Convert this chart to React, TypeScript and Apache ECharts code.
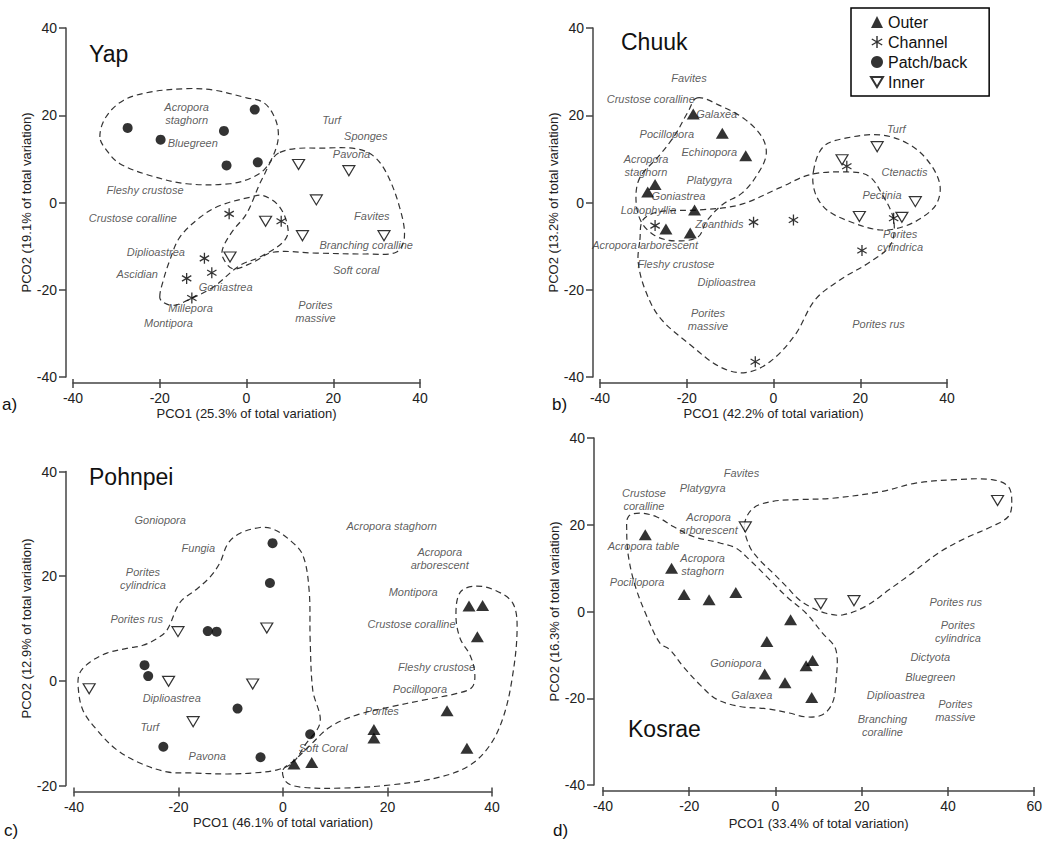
import React, { useEffect, useRef } from 'react';
import * as echarts from 'echarts';

type P = [number, number];
type L = [number, number, string];

const FONT = "'Liberation Sans', Arial, Helvetica, sans-serif";

// ---------- a) Yap ----------
const yapOuter: P[] = [];
const yapChannel: P[] = [[-4.0, -2.6], [8.0, -4.3], [-9.7, -12.8], [-8.0, -16.1], [-13.8, -17.4], [-12.6, -21.9]];
const yapPatch: P[] = [[-27.4, 17.1], [-19.8, 14.4], [-5.2, 16.4], [-4.6, 8.5], [1.9, 21.3], [2.6, 9.2]];
const yapInner: P[] = [[12.0, 8.7], [23.6, 7.3], [16.1, 0.6], [4.4, -4.3], [12.9, -7.6], [31.7, -7.6], [-3.8, -12.5]];
const yapLabels: L[] = [
  [-13.8, 20.4, 'Acropora\nstaghorn'], [-12.4, 13.7, 'Bluegreen'], [-23.4, 2.8, 'Fleshy crustose'],
  [-26.2, -3.6, 'Crustose coralline'], [19.6, 19.0, 'Turf'], [27.5, 15.3, 'Sponges'], [24.2, 11.2, 'Pavona'],
  [28.9, -3.0, 'Favites'], [27.6, -9.7, 'Branching coralline'], [25.3, -15.4, 'Soft coral'],
  [-20.9, -11.4, 'Diplioastrea'], [-25.2, -16.5, 'Ascidian'], [-4.8, -19.3, 'Goniastrea'],
  [-12.9, -24.1, 'Millepora'], [-18.0, -27.6, 'Montipora'], [15.9, -24.9, 'Porites\nmassive'],
];
const yapHullPatch: P[] = [[-33.8, 15.0], [-32.4, 19.6], [-28.4, 23.4], [-22.3, 25.3], [-13.8, 26.1], [-7.7, 25.8], [0, 24.0], [3.8, 23.0], [6.1, 20.3], [7.3, 16.5], [6.9, 12.7], [4.6, 8.1], [1.5, 5.8], [-3.8, 4.3], [-13.8, 4.3], [-22.3, 6.2], [-29.2, 8.9], [-32.2, 11.9]];
const yapHullInner: P[] = [[7.7, 11.5], [19.2, 12.5], [25.3, 12.3], [29.1, 10.8], [32.2, 6.9], [35.3, -1.1], [36.4, -8.0], [34.5, -11.4], [27.6, -11.8], [16.1, -11.6], [6.1, -11.4], [1.5, -13.7], [-3.1, -15.2], [-5.5, -12.5], [-5.4, -10.3], [-3.1, -6.4], [0, -2.6], [3.8, 5.8]];
const yapHullChannel: P[] = [[-20.0, -21.7], [-19.2, -17.9], [-17.7, -13.3], [-15.4, -8.0], [-10.7, -3.4], [-6.1, -0.7], [0.8, 1.2], [3.8, 1.6], [7.7, -1.1], [9.6, -6.4], [8.4, -9.1], [3.1, -12.5], [-1.5, -14.4], [-7.7, -19.4], [-13.8, -22.5], [-16.9, -23.6], [-19.2, -22.9]];

// ---------- b) Chuuk ----------
const chuukOuter: P[] = [[-18.5, 20.3], [-11.8, 15.9], [-6.4, 10.7], [-27.3, 4.1], [-29.0, 2.4], [-18.2, -1.7], [-24.8, -6.1], [-19.2, -7.0]];
const chuukChannel: P[] = [[-27.3, -5.3], [-4.6, -4.5], [4.6, -4.0], [20.4, -11.0], [27.7, -3.6], [-4.2, -36.5], [16.9, 8.3]];
const chuukPatch: P[] = [];
const chuukInner: P[] = [[23.9, 12.8], [15.8, 9.8], [32.7, 0.2], [19.8, -3.2], [29.6, -3.4]];
const chuukLabels: L[] = [
  [-19.5, 28.5, 'Favites'], [-28.3, 23.7, 'Crustose coralline'], [-13.1, 20.3, 'Galaxea'],
  [-24.6, 15.7, 'Pocillopora'], [-14.8, 11.6, 'Echinopora'], [-29.4, 8.5, 'Acropora\nstaghorn'],
  [-14.8, 5.2, 'Platygyra'], [-21.9, 1.4, 'Goniastrea'], [-28.8, -1.8, 'Lobophyllia'],
  [-12.5, -4.9, 'Zoanthids'], [-29.6, -9.7, 'Acropora arborescent'], [-22.5, -14.1, 'Fleshy crustose'],
  [-10.8, -18.3, 'Diplioastrea'], [-15.1, -26.8, 'Porites\nmassive'], [24.2, -27.8, 'Porites rus'],
  [28.3, 16.9, 'Turf'], [30.2, 7.1, 'Ctenactis'], [25.0, 1.8, 'Pectinia'], [29.2, -8.8, 'Porites\ncylindrica'],
];
const chuukHullOuter: P[] = [[-17.6, 24.0], [-12.3, 22.2], [-6.5, 19.0], [-2.6, 14.9], [-1.7, 10.9], [-3.8, 6.3], [-7.2, 2.2], [-11.8, -0.5], [-15.5, -4.4], [-17.4, -7.9], [-22.7, -8.8], [-27.3, -7.6], [-30.5, -4.4], [-31.7, 0.6], [-30.8, 5.7], [-26.2, 10.9], [-22.7, 15.5], [-19.7, 20.8]];
const chuukHullChannel: P[] = [[-30.8, -8.6], [-30.1, -4.0], [-26.2, -2.1], [-16.9, -1.7], [-7.7, -0.5], [1.5, 3.4], [8.5, 6.4], [17.0, 7.0], [21.9, 6.1], [25.1, 1.8], [27.7, -4.0], [27.0, -9.7], [22.3, -13.6], [15.4, -17.7], [9.6, -22.3], [5.0, -30.3], [-0.8, -36.5], [-6.5, -39.0], [-12.3, -37.7], [-19.2, -32.6], [-26.2, -26.4], [-29.6, -20.0], [-31.2, -13.6]];
const chuukHullInner: P[] = [[9.2, 7.1], [11.5, 12.8], [16.9, 14.8], [24.6, 15.5], [30.8, 13.6], [35.4, 9.8], [38.3, 4.4], [37.7, -0.1], [34.6, -3.2], [30.0, -5.5], [24.6, -6.3], [17.7, -4.4], [12.3, -1.7], [9.6, 2.2]];

// ---------- c) Pohnpei ----------
const pohnpeiOuter: P[] = [[2.1, -15.9], [5.5, -15.6], [17.4, -9.3], [17.4, -10.9], [31.4, -5.7], [35.2, -12.9], [35.6, 14.3], [38.2, 14.4], [37.2, 8.4]];
const pohnpeiChannel: P[] = [];
const pohnpeiPatch: P[] = [[-2.0, 26.3], [-2.5, 18.7], [-14.4, 9.5], [-12.7, 9.4], [-26.5, 3.0], [-25.8, 0.9], [-8.7, -5.3], [-22.9, -12.6], [-4.3, -14.6], [5.2, -10.2]];
const pohnpeiInner: P[] = [[-20.1, 9.4], [-3.1, 10.1], [-37.1, -1.5], [-21.9, -0.1], [-5.8, -0.6], [-17.2, -7.8]];
const pohnpeiLabels: L[] = [
  [-23.5, 30.7, 'Goniopora'], [-16.2, 25.3, 'Fungia'], [-26.8, 19.5, 'Porites\ncylindrica'],
  [-28.0, 11.9, 'Porites rus'], [-21.3, -3.2, 'Diplioastrea'], [-25.5, -8.8, 'Turf'], [-14.5, -14.3, 'Pavona'],
  [7.7, -12.9, 'Soft Coral'], [18.9, -5.7, 'Porites'], [26.2, -1.6, 'Pocillopora'], [29.4, 2.7, 'Fleshy crustose'],
  [24.6, 10.8, 'Crustose coralline'], [24.9, 17.0, 'Montipora'], [30.0, 23.4, 'Acropora\narborescent'],
  [20.8, 29.6, 'Acropora staghorn'],
];
const pohnpeiHullLeft: P[] = [[-22.2, 9.7], [-19.7, 15.0], [-16.8, 17.3], [-14.0, 19.8], [-12.1, 22.5], [-10.5, 26.3], [-8.2, 28.2], [-4.4, 29.3], [-1.9, 29.0], [1.3, 26.9], [3.8, 24.0], [5.0, 17.3], [5.2, 7.8], [5.7, -1.8], [7.1, -7.9], [4.2, -12.3], [1.9, -15.6], [-1.1, -17.0], [-5.7, -17.6], [-10.7, -17.8], [-17.8, -17.6], [-22.2, -17.4], [-27.4, -15.7], [-31.8, -13.2], [-35.6, -9.4], [-38.3, -5.6], [-39.2, -1.2], [-38.9, 1.5], [-36.9, 3.6], [-33.7, 5.3], [-29.9, 6.2], [-26.8, 6.8], [-24.1, 8.1]];
const pohnpeiHullRight: P[] = [[0, -17.0], [2.3, -15.1], [5.2, -12.3], [9.0, -8.8], [14.2, -6.5], [20.5, -5.0], [26.8, -3.7], [33.3, -2.4], [36.2, -1.2], [36.7, 1.5], [35.8, 4.9], [33.9, 8.1], [33.1, 12.5], [33.9, 16.9], [36.7, 18.1], [40.6, 17.3], [44.0, 14.8], [44.8, 9.7], [43.8, 0.1], [42.1, -7.1], [39.6, -12.3], [35.8, -16.1], [30.0, -18.4], [20.5, -19.9], [10.9, -20.5], [3.3, -20.3], [0.6, -19.3]];

// ---------- d) Kosrae ----------
const kosraeOuter: P[] = [[-30.2, 17.7], [-24.1, 10.0], [-21.2, 3.9], [-15.4, 2.7], [-9.2, 4.4], [3.5, -1.9], [-2.0, -6.9], [8.6, -11.3], [7.1, -12.5], [-2.5, -14.4], [2.2, -16.4], [8.4, -19.8]];
const kosraeChannel: P[] = [];
const kosraePatch: P[] = [];
const kosraeInner: P[] = [[-7.0, 19.5], [10.5, 1.8], [18.2, 2.5], [51.5, 25.6]];
const kosraeLabels: L[] = [
  [-7.9, 31.9, 'Favites'], [-16.9, 28.4, 'Platygyra'], [-30.5, 25.9, 'Crustose\ncoralline'],
  [-15.5, 20.4, 'Acropora\narborescent'], [-30.6, 15.0, 'Acropora table'], [-16.9, 10.8, 'Acropora\nstaghorn'],
  [-32.1, 6.7, 'Pocillopora'], [-9.2, -11.9, 'Goniopora'], [-5.5, -19.2, 'Galaxea'],
  [41.8, 2.2, 'Porites rus'], [42.3, -4.6, 'Porites\ncylindrica'], [35.9, -10.5, 'Dictyota'],
  [35.9, -15.0, 'Bluegreen'], [27.9, -19.2, 'Diplioastrea'], [41.7, -22.9, 'Porites\nmassive'],
  [24.8, -26.2, 'Branching\ncoralline'],
];
const kosraeHullOuter: P[] = [[-34.5, 18.8], [-34.1, 21.9], [-31.4, 22.7], [-27.5, 21.8], [-23.7, 19.6], [-19.1, 17.3], [-12.9, 15.8], [-9.1, 14.6], [-6.0, 11.9], [-2.1, 8.1], [2.5, 3.5], [7.1, -0.4], [10.9, -5.0], [14.0, -8.8], [14.0, -16.5], [13.2, -21.1], [10.9, -23.8], [7.1, -24.3], [3.2, -23.4], [-2.1, -22.4], [-8.3, -21.9], [-13.7, -20.2], [-17.5, -16.9], [-21.4, -12.7], [-24.5, -8.8], [-26.8, -7.3], [-29.8, -1.2], [-32.5, 5.8], [-34.1, 12.7]];
const kosraeHullInner: P[] = [[-7.2, 20.0], [-5.2, 23.8], [-0.6, 25.4], [5.5, 25.8], [13.2, 26.1], [24.8, 27.7], [32.5, 29.6], [41.7, 30.4], [50.2, 30.4], [54.0, 28.8], [54.8, 25.0], [54.0, 21.9], [50.2, 19.6], [44.0, 16.9], [37.8, 13.5], [31.7, 8.9], [26.3, 5.0], [20.9, 1.2], [15.5, -0.8], [11.7, -0.4], [8.6, 0.8], [5.5, 2.7], [2.5, 5.8], [-0.6, 8.9], [-3.7, 11.9], [-6.0, 15.0]];

// ---------- axes ----------
const xNames = ['PCO1 (25.3% of total variation)', 'PCO1 (42.2% of total variation)', 'PCO1 (46.1% of total variation)', 'PCO1 (33.4% of total variation)'];
const yNames = ['PCO2 (19.1% of total variation)', 'PCO2 (13.2% of total variation)', 'PCO2 (12.9% of total variation)', 'PCO2 (16.3% of total variation)'];
const xMin = [-40, -40, -40, -40];
const xMax = [40, 40, 40, 60];
const yMin = [-40, -40, -20, -40];
const yMax = [40, 40, 40, 40];
const titles = ['Yap', 'Chuuk', 'Pohnpei', 'Kosrae'];
const panelLetters = ['a)', 'b)', 'c)', 'd)'];
const legendNames = ['Outer', 'Channel', 'Patch/back', 'Inner'];

const panels = [
  { outer: yapOuter, channel: yapChannel, patch: yapPatch, inner: yapInner, labels: yapLabels, hulls: [yapHullPatch, yapHullInner, yapHullChannel] },
  { outer: chuukOuter, channel: chuukChannel, patch: chuukPatch, inner: chuukInner, labels: chuukLabels, hulls: [chuukHullOuter, chuukHullChannel, chuukHullInner] },
  { outer: pohnpeiOuter, channel: pohnpeiChannel, patch: pohnpeiPatch, inner: pohnpeiInner, labels: pohnpeiLabels, hulls: [pohnpeiHullLeft, pohnpeiHullRight] },
  { outer: kosraeOuter, channel: kosraeChannel, patch: kosraePatch, inner: kosraeInner, labels: kosraeLabels, hulls: [kosraeHullOuter, kosraeHullInner] },
];

// layout (pixels)
const grids = [
  { left: 73, top: 28, width: 347, height: 349 },
  { left: 600, top: 28, width: 347, height: 349 },
  { left: 74, top: 471.5, width: 418, height: 314 },
  { left: 603, top: 438, width: 433, height: 347 },
];
const yOffsets = [7, 7, 8, 9];
const xNameGaps = [24, 24, 24, 26];
const titlePos = [[89, 42], [621, 30], [89, 465], [628, 717]];
const letterPos = [[2, 396], [552, 396], [4, 822], [553, 822]];

const ASTERISK = 'path://M-0.6,-5L0.6,-5L0.6,5L-0.6,5ZM4.03,-3.02L4.63,-1.98L-4.03,3.02L-4.63,1.98ZM-4.63,-1.98L-4.03,-3.02L4.63,1.98L4.03,3.02Z';
const DOWN_TRI = 'path://M0,0L12,0L6,10Z';
const AXIS_COLOR = '#444';

function buildOption() {
  const xAxis: any[] = [];
  const yAxis: any[] = [];
  const series: any[] = [];
  panels.forEach((d, i) => {
    xAxis.push({
      gridIndex: i, type: 'value', min: xMin[i], max: xMax[i], interval: 20,
      splitLine: { show: false }, position: 'bottom', offset: 6,
      name: xNames[i], nameLocation: 'middle', nameGap: xNameGaps[i],
      nameTextStyle: { fontSize: 13, color: '#222', fontFamily: FONT },
      axisLine: { show: true, onZero: false, lineStyle: { color: AXIS_COLOR, width: 1.5 } },
      axisTick: { show: true, length: 5, lineStyle: { color: AXIS_COLOR, width: 1.5 } },
      axisLabel: { fontSize: 14, color: '#222', fontFamily: FONT, margin: 8, showMinLabel: true, showMaxLabel: true },
    });
    yAxis.push({
      gridIndex: i, type: 'value', min: yMin[i], max: yMax[i], interval: 20,
      splitLine: { show: false }, position: 'left', offset: yOffsets[i],
      name: yNames[i], nameLocation: 'middle', nameGap: 33, nameRotate: 90,
      nameTextStyle: { fontSize: 13, color: '#222', fontFamily: FONT },
      axisLine: { show: true, onZero: false, lineStyle: { color: AXIS_COLOR, width: 1.5 } },
      axisTick: { show: true, length: 7, lineStyle: { color: AXIS_COLOR, width: 1.5 } },
      axisLabel: { fontSize: 14, color: '#222', fontFamily: FONT, margin: 9, showMinLabel: true, showMaxLabel: true },
    });
    const common = { xAxisIndex: i, yAxisIndex: i };
    d.hulls.forEach((h) => {
      series.push({
        type: 'custom', ...common, silent: true, z: 1, clip: false,
        data: [[h[0][0], h[0][1]]],
        renderItem: (_p: any, api: any) => ({
          type: 'polygon',
          shape: { points: h.map((pt) => api.coord(pt)), smooth: 0.35 },
          style: { fill: 'none', stroke: '#333', lineWidth: 1.2, lineDash: [6, 4] },
        }),
      });
    });
    series.push({
      type: 'scatter', name: 'labels', ...common, silent: true, z: 2,
      data: d.labels.map((l) => ({ value: [l[0], l[1]], name: l[2] })),
      symbolSize: 1, itemStyle: { color: 'rgba(0,0,0,0)' },
      label: { show: true, position: 'inside', formatter: '{b}', fontStyle: 'italic', fontSize: 11, lineHeight: 13, color: '#333', fontFamily: FONT },
    });
    series.push({ type: 'scatter', name: 'Outer', ...common, z: 5, data: d.outer, symbol: 'triangle', symbolSize: [13, 11], itemStyle: { color: '#000' } });
    series.push({ type: 'scatter', name: 'Channel', ...common, z: 5, data: d.channel, symbol: ASTERISK, symbolSize: [10, 11], itemStyle: { color: '#000' } });
    series.push({ type: 'scatter', name: 'Patch/back', ...common, z: 5, data: d.patch, symbol: 'circle', symbolSize: 10, itemStyle: { color: '#000' } });
    series.push({ type: 'scatter', name: 'Inner', ...common, z: 5, data: d.inner, symbol: DOWN_TRI, symbolSize: [12, 10], itemStyle: { color: '#fff', borderColor: '#000', borderWidth: 1.2 } });
  });
  // second set of x axes: inward half of the crossing ticks
  panels.forEach((_d, i) => {
    xAxis.push({
      gridIndex: i, type: 'value', min: xMin[i], max: xMax[i], interval: 20,
      position: 'bottom', offset: 6, splitLine: { show: false },
      axisLine: { show: false, onZero: false }, axisLabel: { show: false },
      axisTick: { show: true, inside: true, length: 4, lineStyle: { color: AXIS_COLOR, width: 1.5 } },
    });
  });

  const title: any[] = [];
  titles.forEach((t, i) => {
    title.push({ text: t, left: titlePos[i][0], top: titlePos[i][1], padding: 0, textStyle: { fontSize: 23, fontWeight: 'normal', color: '#111', fontFamily: FONT } });
  });
  panelLetters.forEach((t, i) => {
    title.push({ text: t, left: letterPos[i][0], top: letterPos[i][1], padding: 0, textStyle: { fontSize: 17, fontWeight: 'normal', color: '#111', fontFamily: FONT } });
  });

  return {
    animation: false,
    backgroundColor: '#fff',
    title,
    grid: grids.map((g) => ({ ...g, containLabel: false })),
    xAxis,
    yAxis,
    legend: {
      data: legendNames, orient: 'vertical', left: 851, top: 8,
      itemWidth: 12, itemHeight: 12, itemGap: 4,
      padding: [6, 22, 6, 19], borderColor: '#000', borderWidth: 1.5, backgroundColor: '#fff',
      selectedMode: false,
      textStyle: { fontSize: 16, lineHeight: 16, color: '#111', fontFamily: FONT },
    },
    series,
  };
}

export default function App() {
  const ref = useRef<HTMLDivElement>(null);
  useEffect(() => {
    if (!ref.current) return;
    const chart = echarts.init(ref.current, undefined, { renderer: 'svg' });
    chart.setOption(buildOption() as any);
    return () => chart.dispose();
  }, []);
  return <div ref={ref} style={{ position: 'absolute', left: 0, top: 0, width: 1045, height: 850 }} />;
}
